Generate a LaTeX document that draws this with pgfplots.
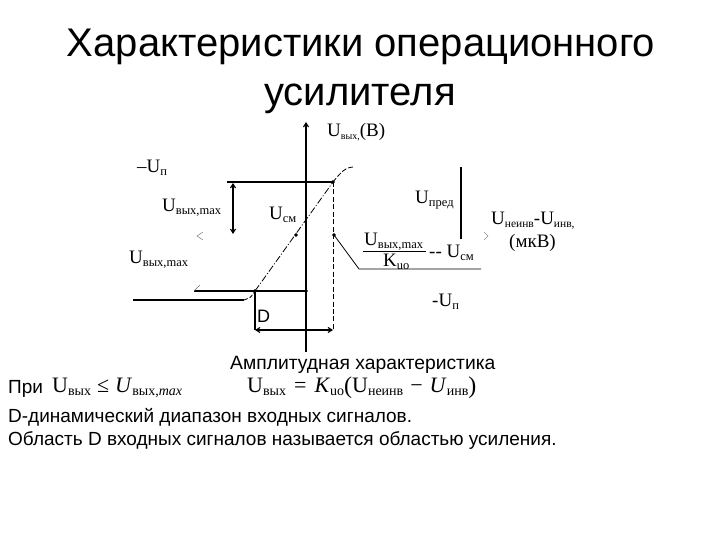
\documentclass[border=0pt]{standalone}
\usepackage{fontspec}
\setmainfont{Liberation Sans}
\newfontfamily\serif{Liberation Serif}
\usepackage{pgfplots}
\pgfplotsset{compat=1.18}
\usetikzlibrary{arrows.meta}
\newcommand\fs[1]{\fontsize{#1bp}{#1bp}\selectfont}
\newcommand\sub[1]{\raisebox{-0.35ex}{\fs{10}#1}}
\newcommand\subb[1]{\raisebox{-0.35ex}{\fs{12.5}#1}}
\newcommand\msub[1]{\raisebox{-0.3ex}{\fs{14}#1}}
\begin{document}
\begin{tikzpicture}
\begin{axis}[
  scale only axis, width=720bp, height=540bp,
  xmin=0, xmax=720, ymin=0, ymax=540, y dir=reverse,
  hide axis, clip=false,
]
% page corners
\path (axis cs:0,0) rectangle (axis cs:720,540);
% y axis
\addplot[black, line width=1.1pt, -{Straight Barb[length=4pt,width=5pt]}, forget plot] coordinates {(306,352) (306,122)};
% horizontal level U_vyx,max
\addplot[black, line width=1.1pt, forget plot] coordinates {(227,182) (333,182)};
% lower horizontal at 291
\addplot[black, line width=1.1pt, forget plot] coordinates {(194,291) (306,291)};
% left arrowhead mark on 291 line
\addplot[black!55, line width=0.6pt, forget plot] coordinates {(200,285) (194,291)};
% vertical arrow U_vyx,max
\addplot[black, line width=1.1pt, {Straight Barb[length=4pt,width=5pt]}-{Straight Barb[length=4pt,width=5pt]}, forget plot] coordinates {(233,183) (233,234)};
% dashed vertical
\addplot[black, line width=0.9pt, dash pattern=on 5pt off 2.5pt, forget plot] coordinates {(333,182) (333,330)};
% D left boundary
\addplot[black, line width=1.1pt, forget plot] coordinates {(255,291) (255,330)};
% D arrow
\addplot[black, line width=1.1pt, {Straight Barb[length=4pt,width=5pt]}-{Straight Barb[length=4pt,width=5pt]}, forget plot] coordinates {(255,330) (333,330)};
% transfer characteristic: lower saturation
\addplot[black, line width=1.1pt, forget plot] coordinates {(133,300) (244,300)};
\addplot[black, line width=0.8pt, smooth, dash pattern=on 4pt off 2pt, forget plot] coordinates {(244,300) (250,297.5) (253,294) (255,291)};
% linear region (dash-dot)
\addplot[black, line width=0.8pt, dash pattern=on 7pt off 2pt on 1pt off 2pt, forget plot] coordinates {(255,291) (333,182)};
% upper saturation
\addplot[black, line width=0.8pt, smooth, dash pattern=on 5pt off 2pt, forget plot] coordinates {(333,182) (338,176) (343,171) (348,168) (353,167)};
% leader line to fraction
\addplot[black, line width=0.8pt, forget plot] coordinates {(334,235) (359,269) (481,269)};
% fraction bar
\addplot[black, line width=0.8pt, forget plot] coordinates {(363,251) (426,251)};
% U_pred vertical line
\addplot[black, line width=1.1pt, forget plot] coordinates {(461,167) (461,239)};
% x axis arrowheads (faint)
\addplot[black!45, line width=0.6pt, forget plot] coordinates {(203,232) (197,236) (203,240)};
\addplot[black!45, line width=0.6pt, forget plot] coordinates {(484,232) (488,236) (484,240)};
% dots
\addplot[only marks, mark=*, mark size=1.7pt, black] coordinates {(306,182) (333,182) (296,235) (334,235) (255,291) (306,291)};

% diagram labels (serif)
\node[anchor=west, inner sep=0] at (axis cs:327,132) {\serif\fs{19}U\sub{вых,}(В)};
\node[anchor=west, inner sep=0] at (axis cs:137,168) {\serif\fs{19}–U\subb{п}};
\node[anchor=west, inner sep=0] at (axis cs:162,208) {\serif\fs{19}U\subb{вых,max}};
\node[anchor=west, inner sep=0] at (axis cs:269,215) {\serif\fs{19}U\subb{см}};
\node[anchor=west, inner sep=0] at (axis cs:129,260) {\serif\fs{19}U\subb{вых,max}};
\node[anchor=west, inner sep=0] at (axis cs:415,200) {\serif\fs{19}U\subb{пред}};
\node[anchor=west, inner sep=0] at (axis cs:491,221) {\serif\fs{19}U\raisebox{-0.35ex}{\fs{11.5}неинв}-U\raisebox{-0.35ex}{\fs{11.5}инв,}};
\node[anchor=west, inner sep=0] at (axis cs:509,243) {\serif\fs{19}(мкВ)};
\node[anchor=west, inner sep=0] at (axis cs:364,242) {\serif\fs{19}U\subb{вых,max}};
\node[anchor=west, inner sep=0] at (axis cs:383,262) {\serif\fs{19}K\subb{uo}};
\node[anchor=west, inner sep=0] at (axis cs:429,253) {\serif\fs{19}-- U\subb{см}};
\node[anchor=west, inner sep=0] at (axis cs:432,302) {\serif\fs{19}-U\subb{п}};
\node[anchor=west, inner sep=0] at (axis cs:257,316) {\fs{18}D};

% title
\node[anchor=base, inner sep=0] at (axis cs:361,57) {\fs{40}Характеристики операционного};
\node[anchor=base, inner sep=0] at (axis cs:360,106) {\fs{40}усилителя};

% bottom text
\node[anchor=west, inner sep=0] at (axis cs:230,365) {\fs{19.3}Амплитудная характеристика};
\node[anchor=west, inner sep=0] at (axis cs:8,389) {\fs{19}При};
\node[anchor=west, inner sep=0] at (axis cs:52,388) {\serif\fs{22}U\msub{вых}\hspace{6bp}≤\hspace{6bp}\textit{U}\msub{вых,\textit{max}}};
\node[anchor=west, inner sep=0] at (axis cs:247,388) {\serif\fs{22}U\msub{вых}\hspace{8bp}=\hspace{8bp}\textit{K}\msub{uo}\raisebox{-0.1ex}{\fs{24}(}U\msub{неинв}\hspace{7bp}−\hspace{7bp}\textit{U}\msub{инв}\raisebox{-0.1ex}{\fs{24})}};
\node[anchor=west, inner sep=0] at (axis cs:8,417) {\fs{19}D-динамический диапазон входных сигналов.};
\node[anchor=west, inner sep=0] at (axis cs:8,441) {\fs{19}Область D входных сигналов называется областью усиления.};
\end{axis}
\end{tikzpicture}
\end{document}
